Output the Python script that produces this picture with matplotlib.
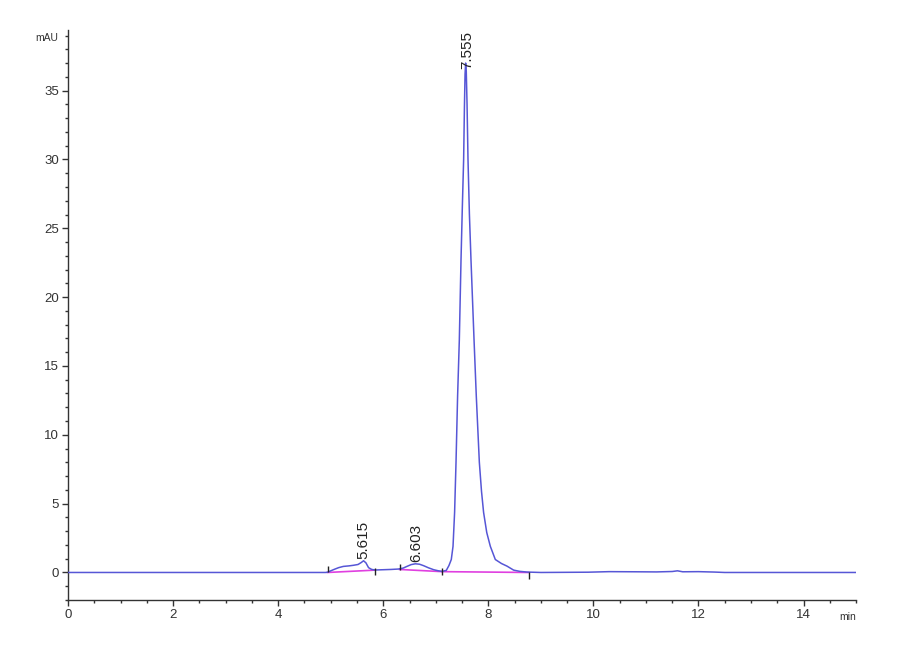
import matplotlib
matplotlib.use("Agg")
import matplotlib.pyplot as plt
from matplotlib.ticker import MultipleLocator
from matplotlib.transforms import blended_transform_factory

plt.rcParams['font.family'] = ['Liberation Sans', 'DejaVu Sans']

# chromatogram trace (time in min, signal in mAU)
time_min = [0.0, 4.9, 4.94, 5.05, 5.15, 5.24, 5.35, 5.43, 5.52, 5.58, 5.625, 5.67,
            5.72, 5.78, 5.85, 6.0, 6.15, 6.29, 6.38, 6.45, 6.53, 6.61, 6.69, 6.77,
            6.86, 6.96, 7.05, 7.12, 7.2, 7.25, 7.295, 7.328, 7.358, 7.385, 7.415,
            7.448, 7.48, 7.505, 7.53, 7.545, 7.557, 7.568, 7.58, 7.595, 7.613, 7.64,
            7.67, 7.728, 7.771, 7.829, 7.87, 7.91, 7.97, 8.038, 8.133, 8.25, 8.356,
            8.482, 8.6, 8.737, 9.0, 9.9, 10.3, 10.8, 11.2, 11.5, 11.6, 11.7, 12.0,
            12.3, 12.5, 15.0]
signal_mau = [0.0, 0.0, 0.02, 0.2, 0.35, 0.44, 0.48, 0.52, 0.58, 0.72, 0.85, 0.7,
              0.35, 0.22, 0.18, 0.2, 0.22, 0.25, 0.32, 0.44, 0.57, 0.63, 0.6, 0.49,
              0.34, 0.2, 0.12, 0.08, 0.15, 0.5, 0.94, 1.9, 4.36, 8.0, 12.8,
              16.9, 22.7, 26.5, 30.0, 33.8, 36.2, 37.0, 36.4, 34.0, 30.0, 26.0,
              22.7, 16.9, 12.8, 8.0, 5.9, 4.36, 2.9, 1.9, 0.94, 0.65, 0.46,
              0.17, 0.08, 0.03, 0.0, 0.02, 0.06, 0.05, 0.04, 0.07, 0.12, 0.05,
              0.06, 0.03, 0.0, 0.0]

# integration baselines (start, end) per peak
base_t = [[4.94, 5.84], [6.31, 7.12], [7.12, 8.77]]
base_y = [[0.0, 0.17], [0.22, 0.06], [0.06, 0.0]]

# peak start/end markers
mark_t = [4.94, 5.84, 6.31, 7.12, 8.77]
mark_y = [0.25, 0.05, 0.4, 0.05, -0.2]

# peak labels
peak_rt = ["5.615", "6.603", "7.555"]
peak_x = [5.625, 6.63, 7.59]
peak_y = [0.95, 0.75, 36.6]

fig = plt.figure(figsize=(9, 6.6), dpi=100)
ax = fig.add_axes([0.0756, 0.0909, 0.8756, 0.8636])

ax.plot(time_min, signal_mau, color='#5656d6', lw=1.1, zorder=3)
for bt, by in zip(base_t, base_y):
    ax.plot(bt, by, color='#e040e0', lw=1.2, zorder=2)
ax.vlines(mark_t, [m - 0.25 for m in mark_y], [m + 0.25 for m in mark_y],
          color='#222222', lw=1.0, zorder=4)

for lab, px, py in zip(peak_rt, peak_x, peak_y):
    ax.text(px, py, lab, rotation=90, ha='center', va='bottom',
            fontsize=11, color='#222222')

ax.set_xlim(0, 15)
ax.set_ylim(-2, 39.4)
ax.xaxis.set_major_locator(MultipleLocator(2))
ax.xaxis.set_minor_locator(MultipleLocator(0.5))
ax.yaxis.set_major_locator(MultipleLocator(5))
ax.yaxis.set_minor_locator(MultipleLocator(1))

for s in ['top', 'right']:
    ax.spines[s].set_visible(False)
for s in ['left', 'bottom']:
    ax.spines[s].set_color('#333333')
    ax.spines[s].set_linewidth(1.0)

ax.tick_params(which='major', length=4.5, width=1, color='#333333',
               labelsize=9.5, labelcolor='#333333', pad=2)
ax.tick_params(which='minor', length=2.5, width=1, color='#333333')

trans = blended_transform_factory(ax.transAxes, ax.transData)
ax.text(-0.012, 38.8, "mAU", transform=trans, ha='right', va='center',
        fontsize=7.5, color='#333333')
trans2 = blended_transform_factory(ax.transData, ax.transAxes)
ax.text(15, -0.03, "min", transform=trans2, ha='right', va='center',
        fontsize=7.5, color='#333333')

fig.savefig("out.png", dpi=100)
